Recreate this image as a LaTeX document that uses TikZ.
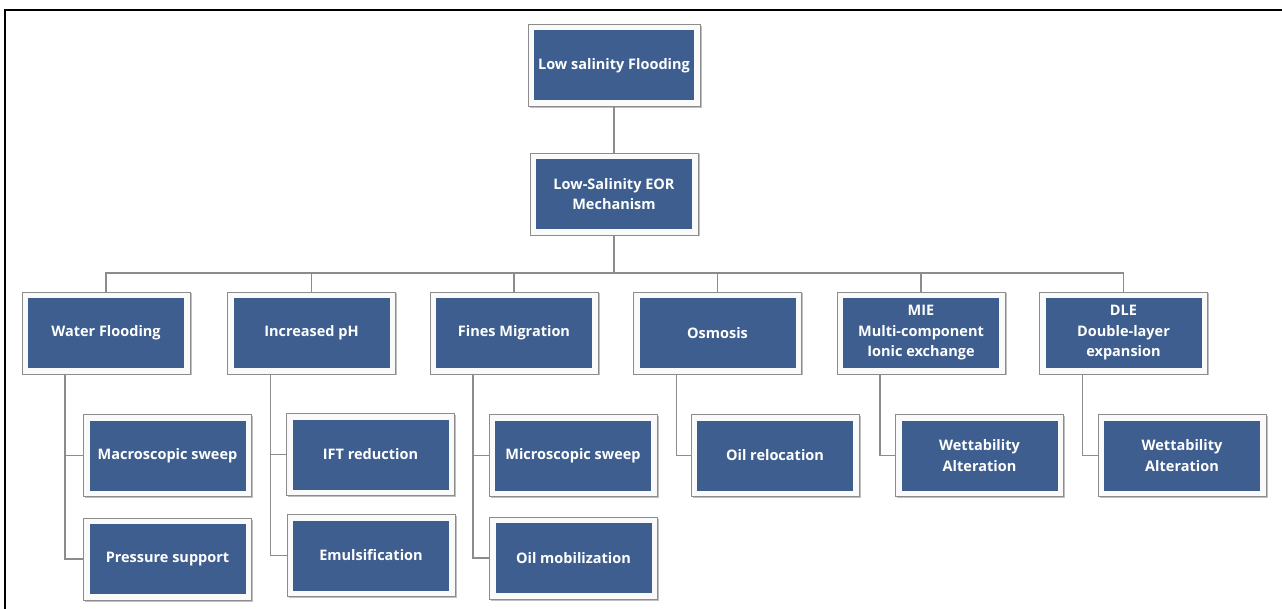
\documentclass[tikz,border=0pt]{standalone}
\usepackage{fontspec}
\setmainfont{Open Sans}
\usepackage{tikz}
\usetikzlibrary{shadows, backgrounds}

\definecolor{boxblue}{RGB}{61,94,142}
\definecolor{rimgray}{RGB}{140,140,140}

\begin{document}
\begin{tikzpicture}[x=1pt, y=-1pt,
  box/.style={draw=rimgray, line width=0.8pt, fill=gray!4, text=white,
    minimum width=168pt, minimum height=82pt, align=center, inner sep=2pt,
    font=\fontsize{14.5}{20.5}\selectfont\bfseries,
    path picture={\fill[boxblue]
      ([shift={(6pt,-6pt)}]path picture bounding box.north west) rectangle
      ([shift={(-6pt,6pt)}]path picture bounding box.south east);},
    drop shadow={shadow xshift=1.5pt, shadow yshift=-1.5pt, opacity=0.5}},
  link/.style={draw=rimgray, line width=1.3pt}]
\useasboundingbox (0,0) rectangle (1282,609);
\draw[line width=2pt] (5,609) -- (5,10) -- (1282,10);

% top of the tree
\node[box, minimum width=172pt] (lsf) at (614,65.5) {Low salinity Flooding};
\node[box] (mech) at (614,194) {Low-Salinity EOR\\Mechanism};

% mechanisms
\node[box] (wf) at (106,333) {Water Flooding};
\node[box] (ph) at (311.5,333) {Increased pH};
\node[box] (fm) at (514,333) {Fines Migration};
\node[box] (osm) at (717.5,333) {Osmosis};
\node[box] (mie) at (921,333) {MIE\\Multi-component\\Ionic exchange};
\node[box] (dle) at (1123.5,333) {DLE\\Double-layer\\expansion};

% effects
\node[box] (macro) at (167.5,455.5) {Macroscopic sweep};
\node[box] (press) at (167.5,559) {Pressure support};
\node[box] (ift) at (370.5,454.5) {IFT reduction};
\node[box] (emul) at (371,555.5) {Emulsification};
\node[box] (micro) at (573,455.5) {Microscopic sweep};
\node[box] (oilmob) at (573.5,558) {Oil mobilization};
\node[box] (reloc) at (775,455.5) {Oil relocation};
\node[box] (wet1) at (979.5,455.5) {Wettability\\Alteration};
\node[box] (wet2) at (1182,455.5) {Wettability\\Alteration};

\coordinate (bus) at (614,273);

\begin{scope}[on background layer]
\draw[link] (lsf.south) -- (mech.north);
\draw[link] (mech.south) -- (bus);
\foreach \m in {wf,ph,fm,osm,mie,dle}
  \draw[link] (bus) -| (\m.north);
\draw[link] ([xshift=-41pt]wf.south) |- (macro.west);
\draw[link] ([xshift=-41pt]wf.south) |- (press.west);
\draw[link] ([xshift=-41pt]ph.south) |- (ift.west);
\draw[link] ([xshift=-41pt]ph.south) |- (emul.west);
\draw[link] ([xshift=-41pt]fm.south) |- (micro.west);
\draw[link] ([xshift=-41pt]fm.south) |- (oilmob.west);
\draw[link] ([xshift=-41pt]osm.south) |- (reloc.west);
\draw[link] ([xshift=-41pt]mie.south) |- (wet1.west);
\draw[link] ([xshift=-41pt]dle.south) |- (wet2.west);
\end{scope}
\end{tikzpicture}
\end{document}
